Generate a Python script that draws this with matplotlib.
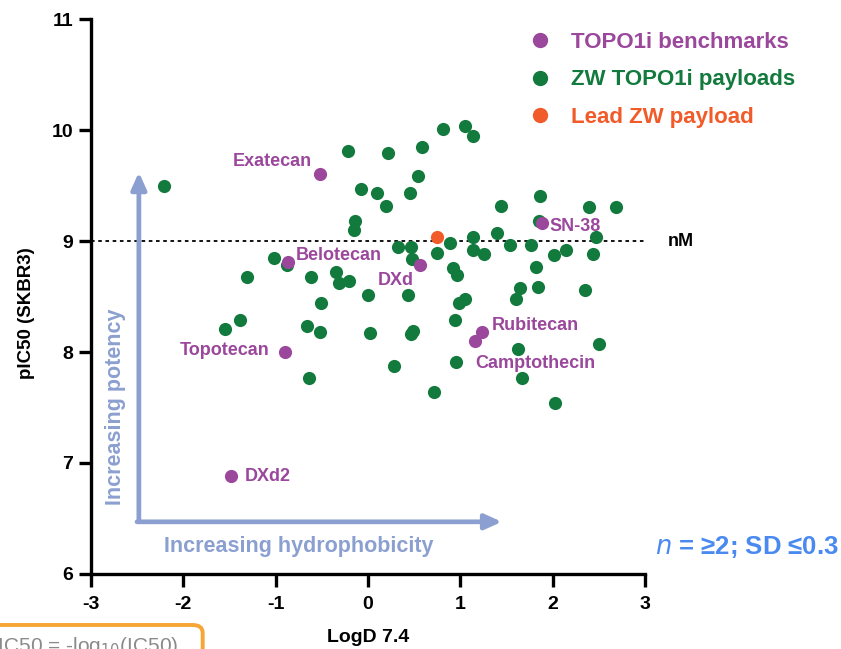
import matplotlib
matplotlib.use('Agg')
import matplotlib.pyplot as plt
from matplotlib.lines import Line2D
from matplotlib.patches import FancyBboxPatch

plt.rcParams['font.family'] = ['Liberation Sans', 'DejaVu Sans']
plt.rcParams['axes.unicode_minus'] = False

PURPLE = '#9a479c'
GREEN = '#137a3e'
ORANGE = '#f15a29'
ARROW = '#8ba0d0'

# TOPO1i benchmarks
bench_names = ['Exatecan', 'SN-38', 'Belotecan', 'DXd', 'Rubitecan',
               'Camptothecin', 'Topotecan', 'DXd2']
bench_logd = [-0.52, 1.88, -0.87, 0.56, 1.24, 1.16, -0.90, -1.48]
bench_pic50 = [9.60, 9.16, 8.81, 8.78, 8.18, 8.10, 8.00, 6.88]

# ZW TOPO1i payloads
zw_logd = [-2.21, -0.22, -0.07, -0.135, -0.15, -1.02, -0.88, -1.31, -0.62, -0.35,
           -0.31, -0.21, 0.00, -0.51, -1.39, -1.55, -0.66, -0.52, 0.02, -0.64,
           0.22, 0.59, 0.81, 1.05, 1.14, 0.54, 0.10, 0.45, 0.20, 1.86,
           1.44, 2.39, 2.69, 1.85, 1.40, 1.14, 2.47, 0.33, 0.47, 0.89,
           1.54, 1.77, 2.14, 2.01, 2.44, 0.75, 1.14, 1.26, 0.48, 0.92,
           0.96, 1.82, 0.43, 0.99, 1.05, 1.65, 1.60, 1.84, 2.35, 0.94,
           0.49, 0.47, 2.50, 1.62, 0.95, 0.28, 1.67, 0.72, 2.03]
zw_pic50 = [9.50, 9.81, 9.47, 9.18, 9.10, 8.85, 8.78, 8.68, 8.68, 8.72,
            8.62, 8.64, 8.51, 8.44, 8.29, 8.21, 8.23, 8.18, 8.17, 7.77,
            9.79, 9.85, 10.01, 10.04, 9.95, 9.59, 9.43, 9.43, 9.32, 9.41,
            9.32, 9.31, 9.31, 9.18, 9.07, 9.04, 9.04, 8.95, 8.95, 8.98,
            8.96, 8.96, 8.92, 8.87, 8.88, 8.89, 8.92, 8.88, 8.84, 8.76,
            8.69, 8.77, 8.51, 8.44, 8.48, 8.58, 8.48, 8.59, 8.56, 8.29,
            8.19, 8.16, 8.07, 8.03, 7.91, 7.87, 7.77, 7.64, 7.54]

# Lead ZW payload
lead_logd = [0.75]
lead_pic50 = [9.04]

# label offsets in points (dx, dy, ha)
label_pos = {
    'Exatecan': (-6, 9, 'right'),
    'SN-38': (6, -2, 'left'),
    'Belotecan': (6, 5, 'left'),
    'DXd': (-30, -11, 'left'),
    'Rubitecan': (7, 5, 'left'),
    'Camptothecin': (0, -16, 'left'),
    'Topotecan': (-11, 1, 'right'),
    'DXd2': (10, 0, 'left'),
}

fig = plt.figure(figsize=(8.41, 6.49), dpi=100)
ax = fig.add_axes([0.108, 0.1156, 0.659, 0.855])

ms = 90
ax.scatter(zw_logd, zw_pic50, s=ms, color=GREEN, zorder=3, linewidths=0)
ax.scatter(bench_logd, bench_pic50, s=ms, color=PURPLE, zorder=4, linewidths=0)
ax.scatter(lead_logd, lead_pic50, s=ms, color=ORANGE, zorder=5, linewidths=0)

for name, x, y in zip(bench_names, bench_logd, bench_pic50):
    dx, dy, ha = label_pos[name]
    ax.annotate(name, (x, y), xytext=(dx, dy), textcoords='offset points',
                ha=ha, va='center', color=PURPLE, fontsize=13, fontweight='bold')

# nM line
ax.plot([-3, 3], [9, 9], color='black', ls=(0, (2, 2)), lw=1.3, zorder=2, clip_on=False)
ax.text(3.25, 9, 'nM', ha='left', va='center', fontsize=13, fontweight='bold')

# trend arrows
ax.annotate('', xy=(-2.48, 9.62), xytext=(-2.48, 6.47),
            arrowprops=dict(arrowstyle='-|>,head_width=0.45,head_length=1.0',
                            color=ARROW, lw=3.4, shrinkA=0, shrinkB=0))
ax.annotate('', xy=(1.45, 6.47), xytext=(-2.50, 6.47),
            arrowprops=dict(arrowstyle='-|>,head_width=0.45,head_length=1.0',
                            color=ARROW, lw=3.4, shrinkA=0, shrinkB=0))
ax.text(-2.73, 7.51, 'Increasing potency', rotation=90, ha='center', va='center',
        color=ARROW, fontsize=15.5, fontweight='bold')
ax.text(-2.21, 6.25, 'Increasing hydrophobicity', ha='left', va='center',
        color=ARROW, fontsize=15.5, fontweight='bold')

ax.set_xlim(-3, 3)
ax.set_ylim(6, 11)
ax.set_xticks([-3, -2, -1, 0, 1, 2, 3])
ax.set_yticks([6, 7, 8, 9, 10, 11])
for sp in ['top', 'right']:
    ax.spines[sp].set_visible(False)
for sp in ['left', 'bottom']:
    ax.spines[sp].set_linewidth(2.4)
ax.tick_params(width=2.4, length=9, labelsize=14)
ax.tick_params(axis='x', pad=7)
for lab in ax.get_xticklabels() + ax.get_yticklabels():
    lab.set_fontweight('bold')
ax.set_xlabel('LogD 7.4', fontsize=14, fontweight='bold')
ax.set_ylabel('pIC50 (SKBR3)', fontsize=13.5, fontweight='bold')
ax.xaxis.set_label_coords(0.5, -0.1)
ax.yaxis.set_label_coords(-0.1, 0.47)

# legend
handles = [Line2D([], [], marker='o', ls='', color=c, markersize=10)
           for c in (PURPLE, GREEN, ORANGE)]
ax.legend(handles, ['TOPO1i benchmarks', 'ZW TOPO1i payloads', 'Lead ZW payload'],
          labelcolor=[PURPLE, GREEN, ORANGE], frameon=False,
          prop={'weight': 'bold', 'size': 16}, handlelength=1.0, handletextpad=0.9,
          labelspacing=0.75, loc='upper left',
          bbox_to_anchor=(0.605, 0.982), bbox_transform=fig.transFigure)

fig.text(0.997, 0.157, '$\\it{n}$ = \u22652; SD \u22640.3', ha='right', va='center',
         color='#4a8af0', fontsize=18.5, fontweight='bold')

# clipped formula box at bottom-left
box = FancyBboxPatch((-0.02, -0.02), 0.261, 0.057, boxstyle='round,pad=0,rounding_size=0.012',
                     transform=fig.transFigure, facecolor='white', edgecolor='#f7a535',
                     lw=2.8, zorder=0)
fig.patches.append(box)
fig.text(-0.017, 0.004, 'pIC50 = -log$_{10}$(IC50)', ha='left', va='center',
         fontsize=15, color='#8a8a8a')

fig.savefig('out.png', dpi=100)
